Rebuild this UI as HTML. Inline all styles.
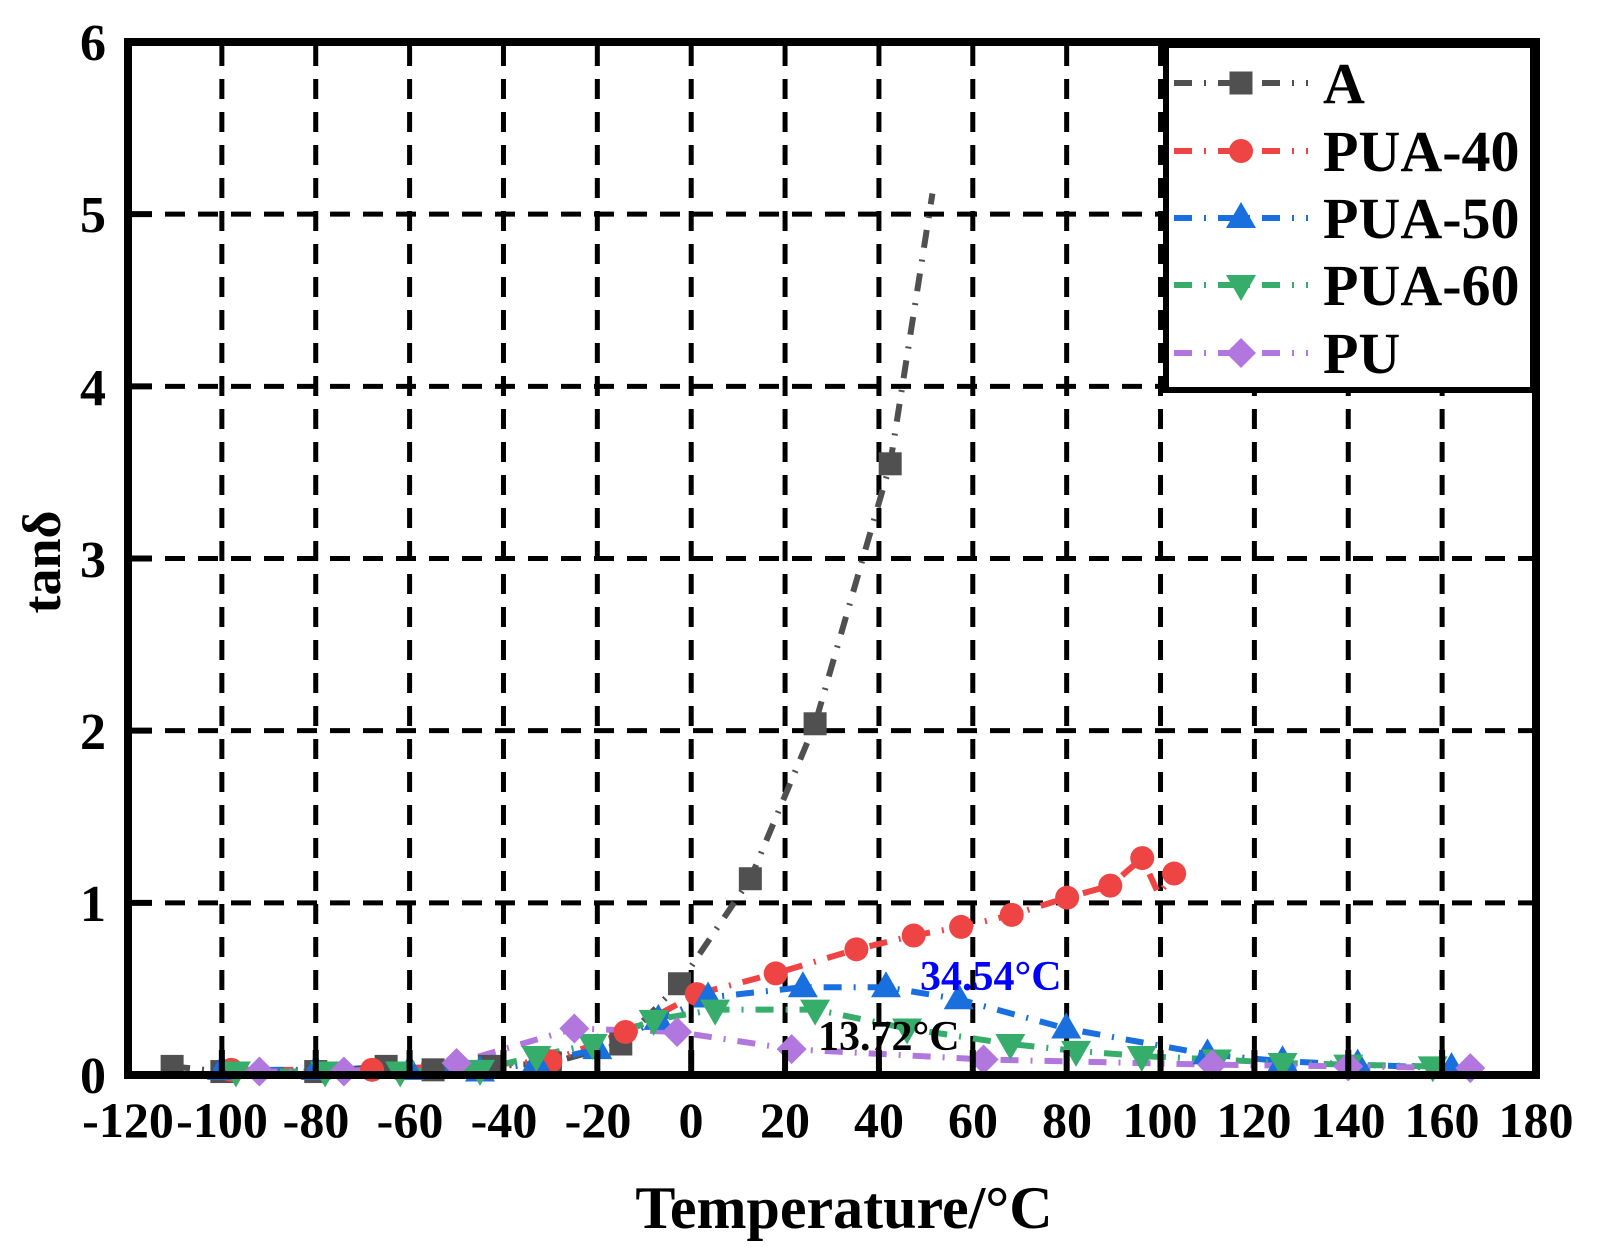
<!DOCTYPE html>
<html><head><meta charset="utf-8"><style>
body{margin:0;background:#fff;}
svg{display:block;font-family:"Liberation Serif",serif;font-weight:bold;}
</style></head><body>
<svg id="s" width="1615" height="1251" viewBox="0 0 1615 1251" xmlns="http://www.w3.org/2000/svg">
<rect width="1615" height="1251" fill="#fff"/>
<g id="grid" stroke="#000" stroke-width="5" stroke-dasharray="20 13"></g>
<g id="series"></g>
<rect x="128" y="42" width="1408" height="1033" fill="none" stroke="#000" stroke-width="8"/>
<g id="ticks" stroke="#000" stroke-width="6"></g>
<g font-size="52" text-anchor="end">
<text x="106" y="1093">0</text><text x="106" y="921">1</text><text x="106" y="749">2</text>
<text x="106" y="577">3</text><text x="106" y="405">4</text><text x="106" y="232">5</text><text x="106" y="60">6</text>
</g>
<g font-size="50" text-anchor="middle">
<text x="128" y="1137">-120</text><text x="222" y="1137">-100</text><text x="316" y="1137">-80</text>
<text x="410" y="1137">-60</text><text x="504" y="1137">-40</text><text x="598" y="1137">-20</text>
<text x="691" y="1137">0</text><text x="785" y="1137">20</text><text x="879" y="1137">40</text>
<text x="973" y="1137">60</text><text x="1067" y="1137">80</text><text x="1160" y="1137">100</text>
<text x="1254" y="1137">120</text><text x="1348" y="1137">140</text><text x="1442" y="1137">160</text><text x="1536" y="1137">180</text>
</g>
<text x="844" y="1228" font-size="60" text-anchor="middle">Temperature/°C</text>
<text transform="translate(60,562) rotate(-90)" font-size="54" text-anchor="middle">tanδ</text>
<text x="920" y="990" font-size="42" fill="#0000ff">34.54°C</text>
<text x="818" y="1050" font-size="42" fill="#000">13.72°C</text>
<rect x="1166" y="45" width="367" height="345" fill="#fff" stroke="#000" stroke-width="6"/>
<g id="leg"></g>
<g font-size="58">
<text x="1323" y="103">A</text><text x="1323" y="171">PUA-40</text><text x="1323" y="238">PUA-50</text>
<text x="1323" y="305">PUA-60</text><text x="1323" y="373">PU</text>
</g>
</svg>
<script>
const NS="http://www.w3.org/2000/svg";
const X=v=>128+(v+120)*4.6933, Y=v=>1075-v*172.17;
function el(p,t,a){const e=document.createElementNS(NS,t);for(const k in a)e.setAttribute(k,a[k]);document.getElementById(p).appendChild(e);return e;}
for(let v=-100;v<=160;v+=20){el("grid","line",{x1:X(v),x2:X(v),y1:46,y2:1071});}
for(let v=1;v<=5;v++){el("grid","line",{x1:132,x2:1532,y1:Y(v),y2:Y(v)});}
for(let v=-100;v<=160;v+=20){el("ticks","line",{x1:X(v),x2:X(v),y1:1071,y2:1050});}
for(let v=1;v<=5;v++){el("ticks","line",{x1:132,x2:152,y1:Y(v),y2:Y(v)});}
function mk(g,type,x,y,c){
 if(type=="s")el(g,"rect",{x:x-11.5,y:y-11.5,width:23,height:23,fill:c});
 else if(type=="c")el(g,"circle",{cx:x,cy:y,r:12,fill:c});
 else if(type=="u")el(g,"polygon",{points:`${x-15},${y+10} ${x+15},${y+10} ${x},${y-16}`,fill:c});
 else if(type=="d")el(g,"polygon",{points:`${x-15},${y-10} ${x+15},${y-10} ${x},${y+16}`,fill:c});
 else el(g,"polygon",{points:`${x-15},${y} ${x},${y-15} ${x+15},${y} ${x},${y+15}`,fill:c});
}
const S=[
 ["#505050","s",[[-110.6,.05],[-100,.02],[-80,.02],[-65,.05],[-55,.03],[-43,.05],[-30,.07],[-15,.18],[-2.5,.53],[12.6,1.14],[26.4,2.04],[42.4,3.55]],[[51.4,5.12]]],
 ["#ef4444","c",[[-98,.03],[-68,.03],[-30,.08],[-14,.25],[1.2,.47],[18,.59],[35.2,.73],[47.4,.81],[57.5,.86],[68.3,.93],[80.1,1.03],[89.3,1.1],[96.1,1.26],[99.6,1.05],[102.9,1.17]],[]],
 ["#1a6fdf","u",[[-100,.03],[-80,.03],[-60,.03],[-45,.02],[-33,.07],[-20,.15],[-7,.32],[3.6,.45],[23.8,.51],[41.5,.51],[57,.44],[79.9,.27],[110,.12],[126,.08],[142,.06],[162,.04]],[]],
 ["#37ad6b","d",[[-97,.02],[-78,.02],[-62,.02],[-45,.03],[-33,.11],[-21,.18],[-8,.32],[5.1,.38],[26.4,.38],[46,.27],[68,.18],[82,.14],[96,.11],[112,.09],[126,.07],[140,.06],[158,.05]],[]],
 ["#b177de","q",[[-92,.02],[-74,.02],[-50,.07],[-24.9,.27],[-3,.25],[21.4,.15],[62.3,.09],[111,.06],[140,.05],[166,.04]],[]]
];
S.forEach(([c,t,pts,extra])=>{
 const all=pts.concat(extra);
 el("series","polyline",{points:all.map(p=>X(p[0])+","+Y(p[1])).join(" "),fill:"none",stroke:c,"stroke-width":6,"stroke-dasharray":"18 12 2 12"});
});
S.forEach(([c,t,pts])=>pts.forEach((p,i)=>{ if(!(t=="c"&&i==13)) mk("series",t,X(p[0]),Y(p[1]),c);}));
const ly=[83,151,218,285,353];
S.forEach(([c,t],i)=>{
 el("leg","line",{x1:1174,x2:1308,y1:ly[i],y2:ly[i],stroke:c,"stroke-width":6,"stroke-dasharray":"18 12 2 12"});
 mk("leg",t,1241,ly[i],c);
});
</script>
</body></html>
